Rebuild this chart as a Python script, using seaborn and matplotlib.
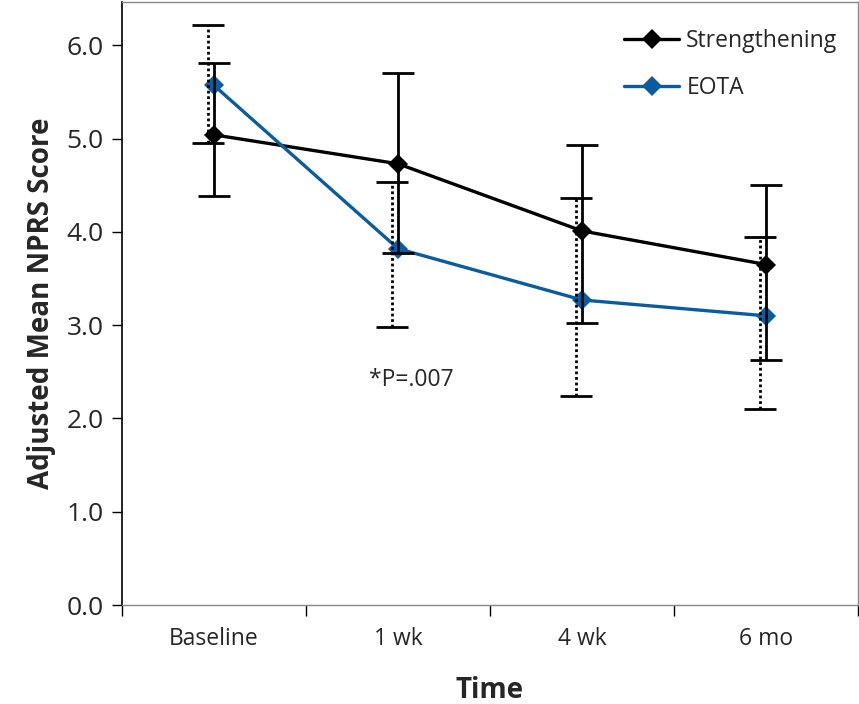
import numpy as np
import pandas as pd
import matplotlib
matplotlib.use('Agg')
import matplotlib.pyplot as plt
import seaborn as sns

# values
times = ['Baseline', '1 wk', '4 wk', '6 mo']
strength_mean = [5.04, 4.73, 4.01, 3.65]
strength_low = [4.38, 3.77, 3.02, 2.63]
strength_high = [5.81, 5.70, 4.93, 4.50]
eota_mean = [5.57, 3.82, 3.27, 3.10]
eota_low = [4.95, 2.98, 2.24, 2.10]
eota_high = [6.22, 4.54, 4.36, 3.95]

sns.set_style('white')
plt.rcParams['font.family'] = ['Open Sans', 'DejaVu Sans']

pos = np.arange(len(times))
df = pd.DataFrame({
    'pos': np.concatenate([pos, pos]),
    'score': strength_mean + eota_mean,
    'group': ['Strengthening'] * 4 + ['EOTA'] * 4,
})

fig = plt.figure(figsize=(8.59, 7.04), dpi=100)
ax = fig.add_axes([0.142, 0.1406, 0.857, 0.856])

sns.lineplot(data=df, x='pos', y='score', hue='group',
             palette={'Strengthening': 'black', 'EOTA': '#0B5C9E'},
             marker='D', markersize=10.5, markeredgewidth=0, linewidth=2.4,
             ax=ax, zorder=2)

# error bars: solid for Strengthening, dotted for EOTA (shifted a bit left)
s_mean = np.array(strength_mean)
e_mean = np.array(eota_mean)
eb1 = ax.errorbar(pos, s_mean,
                  yerr=[s_mean - np.array(strength_low), np.array(strength_high) - s_mean],
                  fmt='none', ecolor='black', elinewidth=2, capsize=11.5, capthick=2, zorder=3)
eb2 = ax.errorbar(pos - 0.035, e_mean,
                  yerr=[e_mean - np.array(eota_low), np.array(eota_high) - e_mean],
                  fmt='none', ecolor='black', elinewidth=2, capsize=11.5, capthick=2, zorder=3)
eb2[2][0].set_linestyle((0, (1, 1)))

ax.set_xlim(-0.5, 3.5)
ax.set_ylim(0, 6.46)
ax.set_xticks(np.arange(-0.5, 4, 1))
ax.set_xticklabels([])
ax.set_xticks(pos, minor=True)
ax.set_xticklabels(times, minor=True, fontsize=16.5)
ax.tick_params(axis='x', which='major', direction='out', length=8, width=1, color='black', bottom=True)
ax.tick_params(axis='x', which='minor', length=0, pad=16)
ax.set_yticks(np.arange(0, 7, 1))
ax.set_yticklabels(['%.1f' % v for v in np.arange(0, 7, 1)], fontsize=19)
ax.tick_params(axis='y', direction='out', length=7, width=1, color='black', left=True, pad=6)

ax.set_xlabel('Time', fontsize=20, fontweight='bold', labelpad=18)
ax.set_ylabel('Adjusted Mean NPRS Score', fontsize=20, fontweight='bold', labelpad=8)

for s in ['top', 'right', 'bottom']:
    ax.spines[s].set_color('#888888')
    ax.spines[s].set_linewidth(1)
ax.spines['left'].set_color('black')
ax.spines['left'].set_linewidth(1.2)

ax.text(1.07, 2.41, '*P=.007', fontsize=16.5, ha='center', va='center')

leg = ax.legend(loc='upper right', bbox_to_anchor=(1.0, 0.99), frameon=False,
                fontsize=16.5, handlelength=2.4, labelspacing=1.0, handletextpad=0.3)

fig.savefig('out.png', dpi=100)
